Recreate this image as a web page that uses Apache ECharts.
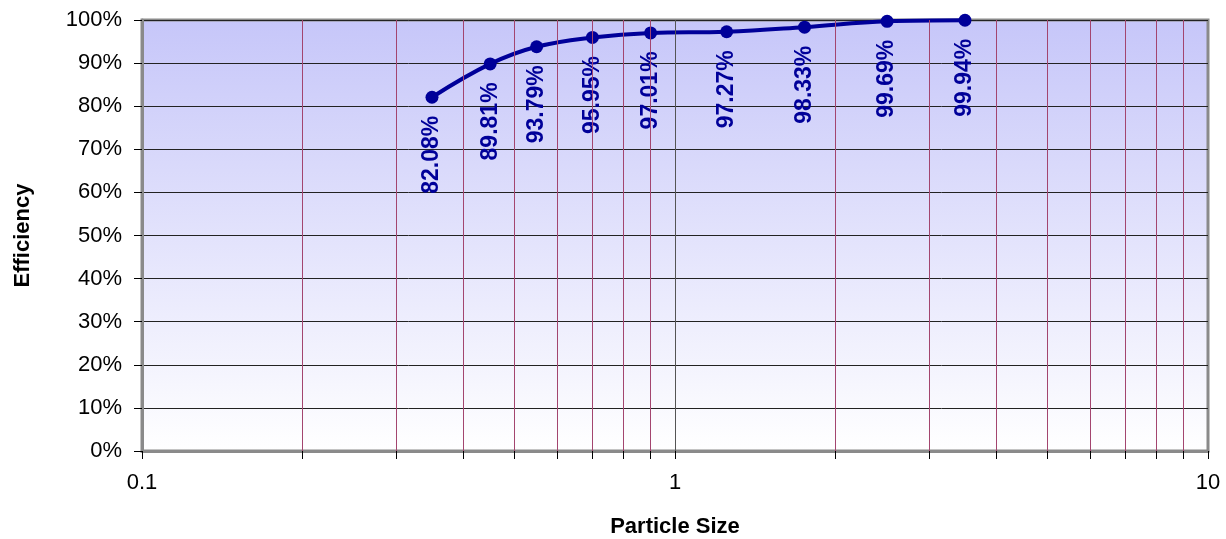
<!DOCTYPE html>
<html>
<head>
<meta charset="utf-8">
<script src="https://cdn.jsdelivr.net/npm/echarts@6/dist/echarts.min.js"></script>
<style>
  html, body { margin: 0; padding: 0; background: #fff; }
  #chart { width: 1226px; height: 539px; }
</style>
</head>
<body>
<div id="chart"></div>
<script>
// particle size (x, log) and efficiency in % (y)
var sizes = [0.35, 0.45, 0.55, 0.7, 0.9, 1.25, 1.75, 2.5, 3.5];
var efficiency = [82.08, 89.81, 93.79, 95.95, 97.01, 97.27, 98.33, 99.69, 99.94];

var xTickValues = [0.1, 0.2, 0.3, 0.4, 0.5, 0.6, 0.7, 0.8, 0.9, 1, 2, 3, 4, 5, 6, 7, 8, 9, 10];
var xLabelValues = [0.1, 1, 10];
var minorGrid = [0.2, 0.3, 0.4, 0.5, 0.6, 0.7, 0.8, 0.9, 2, 3, 4, 5, 6, 7, 8, 9];
var majorGrid = [1];

var chart = echarts.init(document.getElementById('chart'));

var points = sizes.map(function (s, i) { return [s, efficiency[i]]; });

var gridLines = minorGrid.map(function (v) {
  return { xAxis: v, lineStyle: { color: '#a3456f', width: 1, type: 'solid' } };
}).concat(majorGrid.map(function (v) {
  return { xAxis: v, lineStyle: { color: '#555555', width: 1, type: 'solid' } };
}));

var option = {
  animation: false,
  textStyle: { fontFamily: 'Arial, "Liberation Sans", sans-serif' },
  grid: {
    left: 142,
    right: 18,
    top: 20,
    bottom: 88,
    containLabel: false,
    outerBoundsMode: 'none',
    show: true,
    borderColor: '#8a8a8a',
    borderWidth: 3,
    backgroundColor: new echarts.graphic.LinearGradient(0, 0, 0, 1, [
      { offset: 0, color: '#c6c6f9' },
      { offset: 1, color: '#ffffff' }
    ])
  },
  xAxis: {
    type: 'log',
    logBase: 10,
    min: 0.1,
    max: 10,
    name: 'Particle Size',
    nameLocation: 'middle',
    nameGap: 65,
    nameTextStyle: { fontSize: 22, fontWeight: 'bold', color: '#000' },
    axisLine: { show: true, lineStyle: { color: '#8a8a8a', width: 3 } },
    axisTick: { show: true, length: 8, lineStyle: { color: '#000' }, customValues: xTickValues },
    axisLabel: {
      fontSize: 22, color: '#000', margin: 21,
      customValues: xLabelValues,
      formatter: function (v) { return String(v); }
    },
    splitLine: { show: false },
    minorTick: { show: false }
  },
  yAxis: {
    type: 'value',
    min: 0,
    max: 100,
    interval: 10,
    name: 'Efficiency',
    nameLocation: 'middle',
    nameGap: 108,
    nameTextStyle: { fontSize: 22, fontWeight: 'bold', color: '#000' },
    axisLine: { show: true, lineStyle: { color: '#8a8a8a', width: 3 } },
    axisTick: { show: true, length: 8, lineStyle: { color: '#000' } },
    axisLabel: { fontSize: 22, color: '#000', margin: 20, formatter: '{value}%' },
    splitLine: { show: true, lineStyle: { color: '#222', width: 1 } }
  },
  series: [
    {
      type: 'line',
      data: [],
      silent: true,
      markLine: {
        silent: true,
        symbol: 'none',
        label: { show: false },
        animation: false,
        data: gridLines
      }
    },
    {
      type: 'line',
      data: points,
      smooth: 0.4,
      symbol: 'circle',
      symbolSize: 13,
      lineStyle: { color: '#000099', width: 4 },
      itemStyle: { color: '#000099' },
      label: {
        show: true,
        position: 'bottom',
        distance: 12,
        rotate: 90,
        align: 'right',
        verticalAlign: 'middle',
        color: '#000099',
        fontSize: 23,
        fontWeight: 'bold',
        formatter: function (p) { return p.value[1].toFixed(2) + '%'; }
      }
    }
  ]
};

chart.setOption(option);
</script>
</body>
</html>
